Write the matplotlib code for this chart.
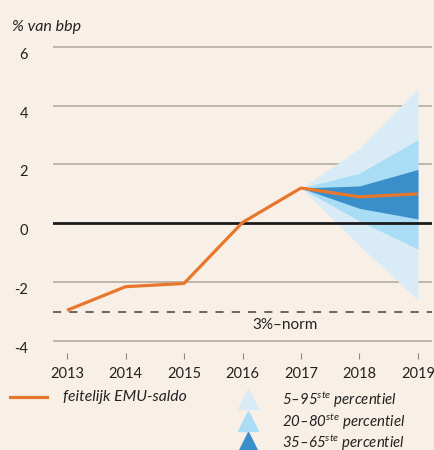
import matplotlib
matplotlib.use("Agg")
import matplotlib.pyplot as plt
import matplotlib.transforms as mtransforms
from matplotlib.lines import Line2D

plt.rcParams['font.family'] = ['Lato', 'DejaVu Sans']
plt.rcParams['mathtext.fontset'] = 'custom'
plt.rcParams['mathtext.it'] = 'Lato:italic'
plt.rcParams['mathtext.rm'] = 'Lato:italic'

# Data
years = [2013, 2014, 2015, 2016, 2017, 2018, 2019]
emu_saldo = [-2.95, -2.15, -2.04, 0.03, 1.2, 0.9, 1.0]

fan_years = [2017, 2018, 2019]
p5 = [1.2, -0.75, -2.6]
p95 = [1.2, 2.54, 4.58]
p20 = [1.2, 0.08, -0.87]
p80 = [1.2, 1.7, 2.84]
p35 = [1.2, 0.51, 0.15]
p65 = [1.2, 1.27, 1.83]

yticks = [-4, -2, 0, 2, 4, 6]
norm_value = -3

bg = '#f8f0e6'
c_light = '#d8ebf6'
c_mid = '#a9ddf5'
c_dark = '#3a8fcb'
c_orange = '#e8762d'
c_grid = '#b9b0a6'

fig = plt.figure(figsize=(4.35, 4.5), dpi=100, facecolor=bg)
ax = fig.add_axes([53/435, 1-353/450, (432-53)/435, (353-46)/450])
ax.set_facecolor(bg)

ax.set_xlim(2012.76, 2019.24)
ax.set_ylim(-4.4, 6.02)

for y in yticks:
    if y == 0:
        ax.axhline(y, color='#1a1a1a', lw=2.0, zorder=4)
    else:
        ax.axhline(y, color=c_grid, lw=1.3, zorder=1)

ax.fill_between(fan_years, p5, p95, color=c_light, lw=0, zorder=2)
ax.fill_between(fan_years, p20, p80, color=c_mid, lw=0, zorder=2.1)
ax.fill_between(fan_years, p35, p65, color=c_dark, lw=0, zorder=2.2)

ax.axhline(norm_value, color='#5e5a57', lw=1.3, ls=(0, (4.5, 4.5)), zorder=3)
ax.text(2016.73, -3.45, '3%–norm', ha='center', va='center', fontsize=11, color='#222222')

ax.plot(years, emu_saldo, color=c_orange, lw=2.3, zorder=6, solid_capstyle='butt')

for s in ax.spines.values():
    s.set_visible(False)
ax.set_yticks(yticks)
ax.set_yticklabels([str(v) for v in yticks])
ax.set_xticks(years)
ax.set_xticklabels([str(v) for v in years])
ax.tick_params(axis='y', length=0, pad=18, labelsize=10.5, labelcolor='#222222')
ax.tick_params(axis='x', length=4, width=0.8, color='#8f8780', pad=6, labelsize=10.5, labelcolor='#222222')

offset = mtransforms.ScaledTranslation(0, -6.5/100, fig.dpi_scale_trans)
for lbl in ax.get_yticklabels():
    lbl.set_transform(lbl.get_transform() + offset)

fig.text(12/435, 1-27/450, '% van bbp', fontsize=11.5, style='italic', color='#222222', va='center', ha='left')

# Legend
fig.add_artist(Line2D([10/435, 47/435], [1-397/450, 1-397/450], color=c_orange, lw=2.3,
                      transform=fig.transFigure))
fig.text(63/435, 1-397/450, 'feitelijk EMU-saldo', fontsize=11.3, style='italic',
         color='#222222', va='center', ha='left')

leg_items = [(c_light, '5–95$^{ste}$ percentiel', 400),
             (c_mid, '20–80$^{ste}$ percentiel', 422),
             (c_dark, '35–65$^{ste}$ percentiel', 443)]
for col, lab, ypx in leg_items:
    fig.add_artist(Line2D([248/435], [1-(ypx-1)/450], marker='^', markersize=14.5, color=col,
                          lw=0, transform=fig.transFigure))
    fig.text(282/435, 1-ypx/450, lab, fontsize=10.8, style='italic', color='#222222',
             va='center', ha='left')

fig.savefig('out.png', dpi=100, facecolor=bg)
